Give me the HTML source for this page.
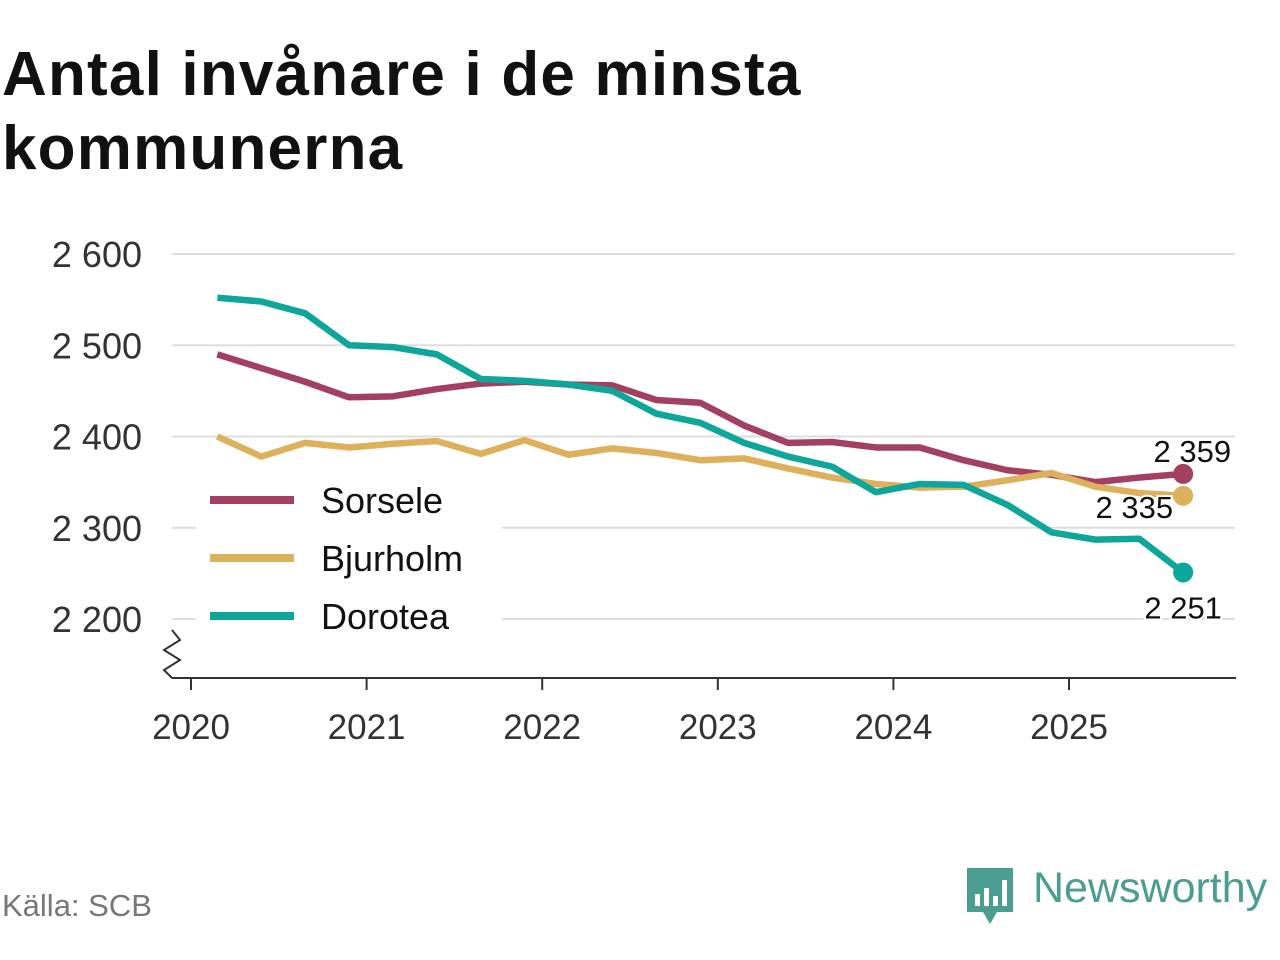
<!DOCTYPE html>
<html><head><meta charset="utf-8"><style>
body{margin:0;background:#fff;width:1280px;height:960px;overflow:hidden;font-family:"Liberation Sans","DejaVu Sans",sans-serif}
h1{position:absolute;left:2px;top:38px;margin:0;font-size:62px;line-height:74px;font-weight:bold;color:#111;letter-spacing:1.2px;white-space:nowrap}
</style></head><body>
<h1>Antal invånare i de minsta<br>kommunerna</h1>
<svg id="c" width="1280" height="960" style="position:absolute;left:0;top:0"></svg>
<div style="position:absolute;left:2px;top:888px;font-size:31px;color:#777">Källa: SCB</div>
<div style="position:absolute;left:965px;top:866px;height:60px">
<svg width="50" height="60" style="position:absolute;left:0;top:0"><path d="M2 2h46v44H32l-7 12-7-12H2z" fill="#4a9d8f"/><rect x="10" y="28" width="5" height="12" fill="#fff"/><rect x="19" y="22" width="5" height="18" fill="#fff"/><rect x="28" y="30" width="5" height="10" fill="#fff"/><rect x="37" y="14" width="5" height="26" fill="#fff"/></svg>
<span style="position:absolute;left:68px;top:-2px;font-size:43px;color:#4a9d8f;white-space:nowrap">Newsworthy</span></div>
<script>
const years=[2020,2021,2022,2023,2024,2025];
const yTicks=[2200,2300,2400,2500,2600];
const tStart=2020.15, tStep=0.25;
const sorsele=[2490,2475,2460,2443,2444,2452,2458,2460,2457,2456,2440,2437,2412,2393,2394,2388,2388,2374,2363,2358,2350,2355,2359];
const bjurholm=[2400,2378,2393,2388,2392,2395,2381,2396,2380,2387,2382,2374,2376,2365,2355,2348,2344,2345,2352,2360,2345,2338,2335];
const dorotea=[2552,2548,2535,2500,2498,2490,2463,2461,2457,2450,2425,2415,2393,2378,2367,2339,2348,2347,2325,2295,2287,2288,2251];
const names=["Sorsele","Bjurholm","Dorotea"];
const colors=["#a3405f","#ddb05c","#0ea69a"];
const X=t=>191+(t-2020)*175.6, Y=v=>254+(2600-v)*0.9125;
const svg=document.getElementById('c'),NS='http://www.w3.org/2000/svg';
function mk(tag,a,p){const e=document.createElementNS(NS,tag);for(const k in a)e.setAttribute(k,a[k]);(p||svg).appendChild(e);return e;}
yTicks.forEach(v=>{
 const l=mk('line',{x1:172,x2:1235,y1:Y(v),y2:Y(v),stroke:'#ddd','stroke-width':2});
 
 const t=mk('text',{x:142,y:Y(v)+13,'text-anchor':'end','font-size':36,fill:'#333'});t.textContent=String(v).replace(/(\d)(\d{3})$/,'$1 $2');
 
});
const ax=mk('line',{x1:172,x2:1236,y1:678,y2:678,stroke:'#333','stroke-width':2});

const zz=mk('path',{d:'M172 630 L180 640 L164 650 L180 660 L164 670 L172 678',fill:'none',stroke:'#333','stroke-width':2});

years.forEach(y=>{
 mk('line',{x1:X(y),x2:X(y),y1:678,y2:690,stroke:'#333','stroke-width':2});
 const t=mk('text',{x:X(y),y:739,'text-anchor':'middle','font-size':35,fill:'#333'});t.textContent=y;
 
});
[sorsele,bjurholm,dorotea].forEach((s,i)=>{
 const p=mk('polyline',{points:s.map((v,j)=>X(tStart+j*tStep)+','+Y(v)).join(' '),fill:'none',stroke:colors[i],'stroke-width':6.5,'stroke-linejoin':'round'});
 
});
const lab=[[-10,-22,'end'],[-14,12,'end'],[-10,36,'middle']];
[sorsele,bjurholm,dorotea].forEach((s,i)=>{
 const n=s.length-1,x=X(tStart+n*tStep),y=Y(s[n]);
 const c=mk('circle',{cx:x,cy:y,r:10,fill:colors[i]});
 
 const t=mk('text',{x:i==2?x:x+48,y:y+lab[i][1]+10,'text-anchor':i==2?'middle':'end','font-size':31,fill:'#111',stroke:'#fff','stroke-width':4,'paint-order':'stroke'});
 if(i==1)t.setAttribute('x',x-10);
 t.textContent=String(s[n]).replace(/(\d)(\d{3})$/,'$1 $2');
 
});
const lg=mk('g',{});
mk('rect',{x:196,y:470,width:306,height:168,fill:'#fff'},lg);
names.forEach((n,i)=>{
 const yy=500+i*58;
 mk('line',{x1:210,x2:294,y1:yy,y2:yy,stroke:colors[i],'stroke-width':8},lg);
 const t=mk('text',{x:321,y:yy+13,'font-size':36,fill:'#111'},lg);t.textContent=n;
 
});
</script>
</body></html>
